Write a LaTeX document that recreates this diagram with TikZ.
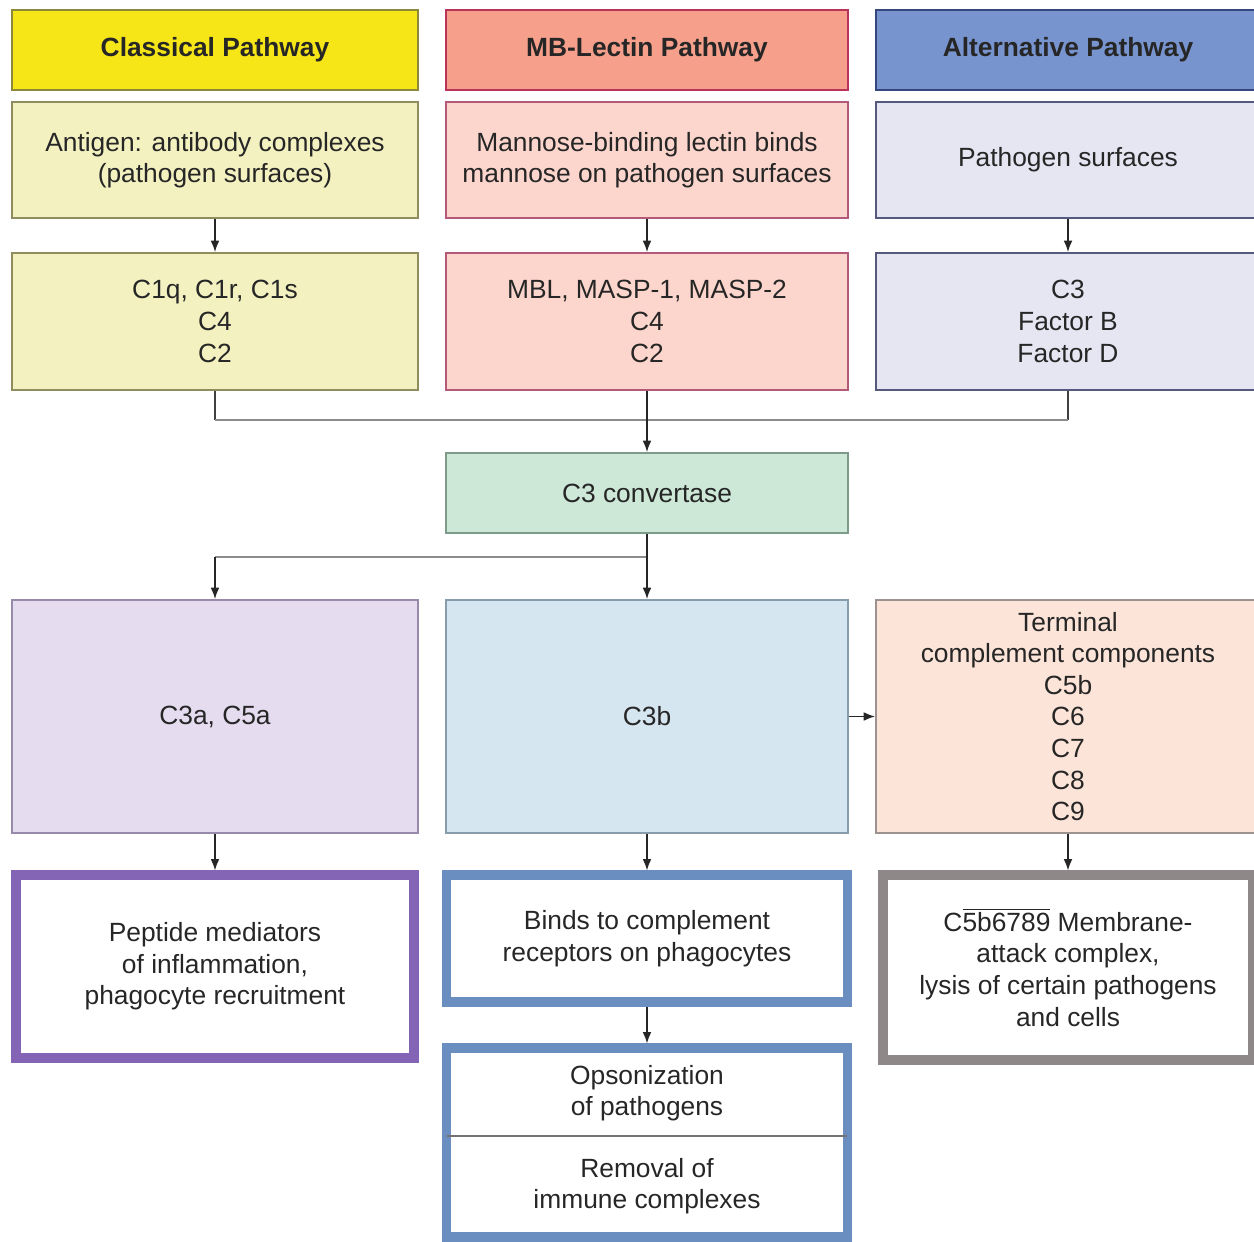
\documentclass[tikz,border=0pt]{standalone}
\usepackage{fontspec}
\setmainfont{Liberation Sans}
\usetikzlibrary{arrows.meta}

\begin{document}
\begin{tikzpicture}[x=0.02cm, y=-0.02cm,
    cell/.style={draw=#1, line width=1.1pt, inner sep=0pt, align=center,
        text=black!85, font=\fontsize{15}{18}\selectfont},
    head/.style={cell=#1, font=\bfseries\fontsize{15}{18}\selectfont, minimum height=1.6cm},
    result/.style={draw=#1, line width=5.2pt, inner sep=0pt, align=center,
        text=black!85, font=\fontsize{15}{18}\selectfont},
    label/.style={inner sep=0pt, align=center, text=black!85, font=\fontsize{15}{18}\selectfont},
    colA/.style={minimum width=8.12cm},
    colB/.style={minimum width=8.04cm},
    colC/.style={minimum width=7.68cm},
    arrow/.style={draw=black!85, line width=0.8pt, -{Latex[length=6.5pt,width=5pt]}},
    line/.style={draw=black!75, line width=0.8pt},
    wire/.style={draw=black!45, line width=1.6pt},
    divider/.style={draw=black!55, line width=1pt}]

    \definecolor{clHeadFill}{HTML}{F6E617}
    \definecolor{clHeadEdge}{HTML}{8C8A3A}
    \definecolor{clFill}{HTML}{F3F1C0}
    \definecolor{clEdge}{HTML}{8F8C5E}
    \definecolor{mbHeadFill}{HTML}{F6A08C}
    \definecolor{mbHeadEdge}{HTML}{B8345A}
    \definecolor{mbFill}{HTML}{FCD6CC}
    \definecolor{mbEdge}{HTML}{B25A78}
    \definecolor{alHeadFill}{HTML}{7894CF}
    \definecolor{alHeadEdge}{HTML}{36467E}
    \definecolor{alFill}{HTML}{E6E6F3}
    \definecolor{alEdge}{HTML}{55597E}
    \definecolor{convFill}{HTML}{CDE8D7}
    \definecolor{convEdge}{HTML}{7E9A88}
    \definecolor{anaFill}{HTML}{E5DCEF}
    \definecolor{anaEdge}{HTML}{978AAA}
    \definecolor{opsFill}{HTML}{D6E6F1}
    \definecolor{opsEdge}{HTML}{889DAC}
    \definecolor{termFill}{HTML}{FCE4D8}
    \definecolor{termEdge}{HTML}{9C9390}
    \definecolor{purpleEdge}{HTML}{8464B4}
    \definecolor{blueEdge}{HTML}{6B8EC0}
    \definecolor{grayEdge}{HTML}{8E8888}

    \useasboundingbox (0,0) rectangle (1254,1241);

    % Pathway headers
    \node[head=clHeadEdge, fill=clHeadFill, colA] (clHead) at (215,50) {Classical Pathway};
    \node[head=mbHeadEdge, fill=mbHeadFill, colB] (mbHead) at (647,50) {MB-Lectin Pathway};
    \node[head=alHeadEdge, fill=alHeadFill, colC] (alHead) at (1068,50) {Alternative Pathway};

    % Triggers
    \node[cell=clEdge, fill=clFill, colA, minimum height=2.32cm] (clSrc) at (215,160)
        {Antigen: antibody complexes\\(pathogen surfaces)};
    \node[cell=mbEdge, fill=mbFill, colB, minimum height=2.32cm] (mbSrc) at (647,160)
        {Mannose-binding lectin binds\\mannose on pathogen surfaces};
    \node[cell=alEdge, fill=alFill, colC, minimum height=2.32cm] (alSrc) at (1068,160)
        {Pathogen surfaces};

    % Early components
    \node[cell=clEdge, fill=clFill, colA, minimum height=2.74cm] (clComp) at (215,321.5)
        {C1q, C1r, C1s\\C4\\C2};
    \node[cell=mbEdge, fill=mbFill, colB, minimum height=2.74cm] (mbComp) at (647,321.5)
        {MBL, MASP-1, MASP-2\\C4\\C2};
    \node[cell=alEdge, fill=alFill, colC, minimum height=2.74cm] (alComp) at (1068,321.5)
        {C3\\Factor B\\Factor D};

    % C3 convertase
    \node[cell=convEdge, fill=convFill, colB, minimum height=1.6cm] (conv) at (647,493)
        {C3 convertase};

    % Cleavage products
    \node[cell=anaEdge, fill=anaFill, colA, minimum height=4.66cm] (c3a) at (215,716.5)
        {C3a, C5a};
    \node[cell=opsEdge, fill=opsFill, colB, minimum height=4.66cm] (c3b) at (647,716.5)
        {C3b};
    \node[cell=termEdge, fill=termFill, colC, minimum height=4.66cm] (term) at (1068,716.5)
        {Terminal\\complement components\\C5b\\C6\\C7\\C8\\C9};

    % Effects
    \node[result=purpleEdge, minimum width=7.96cm, minimum height=3.66cm] (peptide) at (215,966.5)
        {Peptide mediators\\of inflammation,\\phagocyte recruitment};
    \node[result=blueEdge, minimum width=8.02cm, minimum height=2.54cm] (binds) at (647,938.5)
        {Binds to complement\\receptors on phagocytes};
    \node[result=grayEdge, minimum width=7.4cm, minimum height=3.7cm] (mac) at (1068,967.5)
        {C$\overline{\mbox{5b6789}}$ Membrane-\\attack complex,\\lysis of certain pathogens\\and cells};

    % Opsonization box with divider
    \coordinate (cut) at (647,1136);
    \node[result=blueEdge, minimum width=8.02cm, minimum height=3.78cm] (effect) at (647,1142.5) {};
    \draw[divider, shorten <=2.6pt, shorten >=2.6pt] (effect.west |- cut) -- (effect.east |- cut);
    \node[label] (opso) at (647,1093) {Opsonization\\of pathogens};
    \node[label] (removal) at (647,1186) {Removal of\\immune complexes};

    % Arrows down each pathway
    \draw[arrow] (clSrc) -- (clComp);
    \draw[arrow] (mbSrc) -- (mbComp);
    \draw[arrow] (alSrc) -- (alComp);

    % Merge into C3 convertase
    \coordinate (merge) at (647,420);
    \draw[line] (clComp.south) -- (clComp.south |- merge);
    \draw[line] (alComp.south) -- (alComp.south |- merge);
    \draw[wire] (clComp.south |- merge) -- (alComp.south |- merge);
    \draw[arrow] (mbComp.south) -- (conv.north);

    % Split into C3a and C3b
    \coordinate (split) at (647,557);
    \draw[wire] (split) -- (c3a.north |- split);
    \draw[arrow] (c3a.north |- split) -- (c3a.north);
    \draw[arrow] (conv.south) -- (c3b.north);
    \draw[arrow] (c3b.east) -- (term.west);

    % Arrows to effects
    \draw[arrow] (c3a) -- (peptide);
    \draw[arrow] (c3b) -- (binds);
    \draw[arrow] (term) -- (mac);
    \draw[arrow] (binds) -- (effect);

\end{tikzpicture}
\end{document}
